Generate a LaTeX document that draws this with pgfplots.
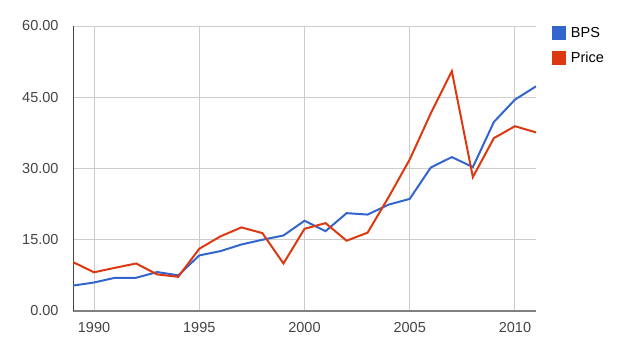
\documentclass[border=0pt]{standalone}
\usepackage{pgfplots}
\pgfplotsset{compat=1.18}
\usepackage{fontspec}
\setmainfont{Liberation Sans}
\definecolor{gblue}{HTML}{3366CC}
\definecolor{gred}{HTML}{DC3912}
\definecolor{ggrid}{HTML}{CCCCCC}
\definecolor{gtext}{HTML}{444444}
\begin{document}
\begin{tikzpicture}
\path[use as bounding box] (-73bp,-48bp) rectangle (544bp,311bp);
\begin{axis}[
  at={(0,0)}, anchor=south west,
  scale only axis, width=463bp, height=285bp,
  xmin=1989, xmax=2011, ymin=0, ymax=60,
  xtick={1990,1995,2000,2005,2010},
  ytick={0,15,30,45,60},
  xticklabel style={/pgf/number format/1000 sep={}, yshift=-8bp},
  yticklabel style={/pgf/number format/fixed, /pgf/number format/fixed zerofill,
    /pgf/number format/precision=2, xshift=-11bp},
  /pgf/number format/assume math mode=true,
  ticklabel style={font=\fontsize{14.5bp}{17bp}\selectfont, text=gtext},
  major tick length=0pt,
  grid=major,
  major grid style={ggrid, line width=1bp},
  axis lines*=left,
  axis line style={-},
  x axis line style={draw=gray, line width=2bp},
  y axis line style={draw=gtext, line width=1bp},
  legend style={at={(1.034,1)}, anchor=north west, draw=none, fill=none,
    inner sep=0pt, row sep=10.5bp, font=\fontsize{14.5bp}{17bp}\selectfont,
    legend cell align=left,
    nodes={inner xsep=5bp, inner ysep=0pt, text=black}},
  legend image code/.code={\fill[#1,draw=none] (0bp,-7bp) rectangle (14bp,7bp);},
]
\addplot[gblue, line width=2bp] coordinates {
(1989,5.35)(1990,6.0)(1991,7.0)(1992,7.0)(1993,8.2)(1994,7.5)(1995,11.7)
(1996,12.6)(1997,14.0)(1998,15.0)(1999,15.9)(2000,19.0)(2001,16.8)(2002,20.6)
(2003,20.3)(2004,22.4)(2005,23.6)(2006,30.2)(2007,32.4)(2008,30.3)(2009,39.8)
(2010,44.5)(2011,47.3)};
\addlegendentry{BPS}
\addplot[gred, line width=2bp] coordinates {
(1989,10.3)(1990,8.15)(1991,9.1)(1992,10.0)(1993,7.7)(1994,7.2)(1995,13.1)
(1996,15.7)(1997,17.6)(1998,16.4)(1999,10.0)(2000,17.3)(2001,18.5)(2002,14.8)
(2003,16.5)(2004,24.0)(2005,31.9)(2006,41.6)(2007,50.5)(2008,28.2)(2009,36.4)
(2010,38.9)(2011,37.6)};
\addlegendentry{Price}
\end{axis}
\end{tikzpicture}
\end{document}
